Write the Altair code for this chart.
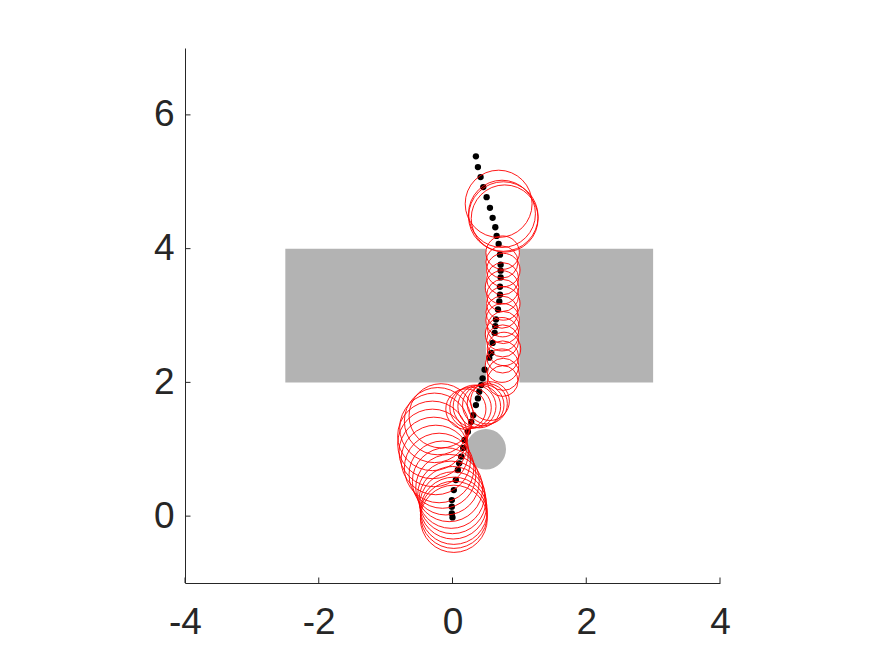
import altair as alt
import pandas as pd

# ---- data ----
# robot path (black dots)
path_x = [0.00, -0.01, -0.01, -0.01, 0.02, 0.05, 0.08, 0.10, 0.13, 0.16, 0.18, 0.23, 0.28, 0.31,
          0.35, 0.38, 0.40, 0.43, 0.45, 0.48, 0.55, 0.58, 0.60, 0.63, 0.64, 0.65, 0.68, 0.70,
          0.71, 0.71, 0.72, 0.72, 0.72, 0.71, 0.69, 0.66, 0.64, 0.60, 0.56, 0.51, 0.46, 0.42,
          0.38, 0.35]
path_y = [-0.02, 0.04, 0.14, 0.24, 0.39, 0.54, 0.69, 0.79, 0.89, 1.02, 1.14, 1.26, 1.41, 1.51,
          1.66, 1.76, 1.86, 1.96, 2.06, 2.19, 2.37, 2.44, 2.59, 2.74, 2.84, 2.94, 3.09, 3.21,
          3.31, 3.43, 3.57, 3.67, 3.76, 3.91, 4.07, 4.19, 4.32, 4.46, 4.61, 4.77, 4.92, 5.07,
          5.22, 5.38]

# uncertainty circles (red): centre x, centre y, radius
circ_x = [0.02, 0.02, 0.02, 0.01, 0.00, -0.02, -0.05,
          -0.10, -0.15, -0.20, -0.25, -0.28, -0.30, -0.30, -0.27, -0.22, -0.17,
          0.20, 0.27, 0.33, 0.40, 0.46, 0.52, 0.56,
          0.75, 0.76, 0.74, 0.75, 0.77, 0.75, 0.74, 0.76, 0.75, 0.74, 0.76, 0.75, 0.74,
          0.75, 0.76, 0.74, 0.75,
          0.69, 0.74, 0.76, 0.78]
circ_y = [-0.04, 0.02, 0.08, 0.16, 0.24, 0.32, 0.42,
          0.52, 0.62, 0.72, 0.84, 0.96, 1.08, 1.20, 1.32, 1.42, 1.50,
          1.60, 1.62, 1.64, 1.64, 1.66, 1.68, 1.72,
          2.02, 2.12, 2.25, 2.38, 2.50, 2.62, 2.72, 2.82, 2.93, 3.05, 3.18, 3.30, 3.42,
          3.55, 3.68, 3.80, 3.94,
          4.67, 4.52, 4.48, 4.45]
circ_r = [0.50, 0.50, 0.50, 0.50, 0.50, 0.50, 0.50,
          0.50, 0.50, 0.52, 0.52, 0.52, 0.52, 0.52, 0.52, 0.50, 0.48,
          0.30, 0.31, 0.32, 0.32, 0.31, 0.30, 0.29,
          0.23, 0.24, 0.25, 0.24, 0.25, 0.24, 0.25, 0.24, 0.25, 0.24, 0.25, 0.24, 0.25,
          0.24, 0.25, 0.24, 0.25,
          0.50, 0.50, 0.52, 0.50]

# obstacles
rect_x1 = [-2.5, 1.0]
rect_x2 = [0.5, 3.0]
rect_y1 = [2.0, 2.0]
rect_y2 = [4.0, 4.0]
disc_x = [0.5]
disc_y = [1.0]
disc_r = [0.3]

x_ticks = [-4, -2, 0, 2, 4]
y_ticks = [0, 2, 4, 6]

# ---- chart ----
W = H = 535
TXT = "#262626"
px_per_unit = W / 8.0
size_range_max = (2 * px_per_unit) ** 2

xs = alt.Scale(domain=[-4, 4], nice=False, zero=False)
ys = alt.Scale(domain=[-1, 7], nice=False, zero=False)
ss = alt.Scale(domain=[0, 1], range=[0, size_range_max], zero=True)

x_axis = alt.Axis(values=x_ticks, title=None, grid=False, ticks=False, domainColor=TXT,
                  domainWidth=1, labelColor=TXT, labelFontSize=37, labelFont="Liberation Sans",
                  labelPadding=21, labelFlush=False, labelOverlap=False,
                  labelExpr="'' + datum.value")
y_axis = alt.Axis(values=y_ticks, title=None, grid=False, ticks=False, domainColor=TXT,
                  domainWidth=1, labelColor=TXT, labelFontSize=37, labelFont="Liberation Sans",
                  labelPadding=11, labelFlush=False, labelOverlap=False,
                  labelExpr="'' + datum.value")

rects = pd.DataFrame({"x1": rect_x1, "x2": rect_x2, "y1": rect_y1, "y2": rect_y2})
disc = pd.DataFrame({"x": disc_x, "y": disc_y, "r": disc_r})
path = pd.DataFrame({"x": path_x, "y": path_y})
circs = pd.DataFrame({"x": circ_x, "y": circ_y, "r": circ_r})
xt = pd.DataFrame({"t": x_ticks})
yt = pd.DataFrame({"t": y_ticks})

rect_layer = alt.Chart(rects).mark_rect(color="#b3b3b3").encode(
    x=alt.X("x1:Q", scale=xs, axis=x_axis),
    x2="x2:Q",
    y=alt.Y("y1:Q", scale=ys, axis=y_axis),
    y2="y2:Q",
)

disc_layer = alt.Chart(disc).transform_calculate(r2="datum.r*datum.r").mark_point(
    shape="circle", filled=True, color="#b3b3b3", opacity=1, strokeWidth=0
).encode(
    x=alt.X("x:Q", scale=xs, axis=x_axis),
    y=alt.Y("y:Q", scale=ys, axis=y_axis),
    size=alt.Size("r2:Q", scale=ss, legend=None),
)

dot_layer = alt.Chart(path).mark_circle(color="black", size=40, opacity=1).encode(
    x=alt.X("x:Q", scale=xs, axis=x_axis),
    y=alt.Y("y:Q", scale=ys, axis=y_axis),
)

circ_layer = alt.Chart(circs).transform_calculate(r2="datum.r*datum.r").mark_point(
    shape="circle", filled=False, color="#ff0000", opacity=1, strokeWidth=0.9
).encode(
    x=alt.X("x:Q", scale=xs, axis=x_axis),
    y=alt.Y("y:Q", scale=ys, axis=y_axis),
    size=alt.Size("r2:Q", scale=ss, legend=None),
)

xtick_layer = alt.Chart(xt).mark_rule(color=TXT, strokeWidth=1).encode(
    x=alt.X("t:Q", scale=xs, axis=x_axis),
    y=alt.value(H),
    y2=alt.value(H - 5.5),
)
ytick_layer = alt.Chart(yt).mark_rule(color=TXT, strokeWidth=1).encode(
    y=alt.Y("t:Q", scale=ys, axis=y_axis),
    x=alt.value(0),
    x2=alt.value(5.5),
)

chart = alt.layer(
    rect_layer, disc_layer, dot_layer, circ_layer, xtick_layer, ytick_layer
).properties(
    width=W, height=H,
    autosize=alt.AutoSizeParams(type="none"),
    padding={"left": 177, "top": 40, "right": 140, "bottom": 70},
    background="white",
).configure_view(stroke=None)

chart.save("out.html", embed_options={"renderer": "svg", "actions": False})
